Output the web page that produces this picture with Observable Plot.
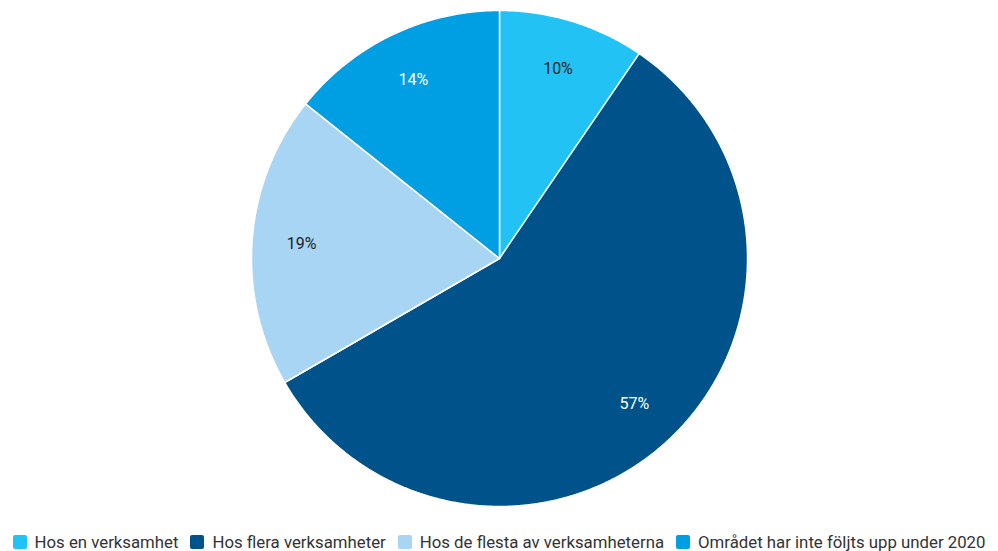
<!DOCTYPE html>
<html><head><meta charset="utf-8">
<script src="https://cdn.jsdelivr.net/npm/d3@7"></script>
<script src="https://cdn.jsdelivr.net/npm/@observablehq/plot@0.6"></script>
<style>
body{margin:0;background:#fff;font-family:Roboto,sans-serif;}
#legend{display:flex;justify-content:center;align-items:center;height:24px;font-size:16.8px;color:#333;gap:12px;}
#legend .it{display:flex;align-items:center;gap:8px;}
#legend .sw{width:14px;height:14px;border-radius:2px;display:inline-block;}
</style></head>
<body><div id="chart"></div><div id="legend"></div>
<script>
const categories = ["Hos en verksamhet","Hos flera verksamheter","Hos de flesta av verksamheterna","Området har inte följts upp under 2020"];
const counts = [2, 12, 4, 3];
const colors = ["#22c3f4","#00538a","#a9d5f5","#009fe3"];
const labelColors = ["#222","#fff","#222","#fff"];

const total = d3.sum(counts);
const pie = d3.pie().sort(null).value(d => d.v)(categories.map((c,i)=>({c, v: counts[i], i})));
const poly = [];
const labels = [];
for (const a of pie) {
  const n = Math.max(4, Math.ceil((a.endAngle - a.startAngle) / 0.005));
  poly.push({c: a.data.c, x: 0, y: 0});
  for (let k = 0; k <= n; k++) {
    const t = a.startAngle + (a.endAngle - a.startAngle) * k / n;
    poly.push({c: a.data.c, x: Math.sin(t), y: Math.cos(t)});
  }
  poly.push({c: a.data.c, x: 0, y: 0});
  const m = (a.startAngle + a.endAngle) / 2;
  labels.push({c: a.data.c, x: 0.8*Math.sin(m), y: 0.8*Math.cos(m), t: Math.round(a.data.v/total*100) + "%", col: labelColors[a.data.i]});
}

const chart = Plot.plot({
  width: 998, height: 530,
  margin: 0,
  style: {fontFamily: "Roboto, sans-serif", background: "#fff"},
  x: {domain: [-1, 1], range: [251, 747], axis: null},
  y: {domain: [-1, 1], range: [506, 10], axis: null},
  color: {domain: categories, range: colors},
  marks: [
    Plot.line(poly, {x: "x", y: "y", z: "c", fill: "c", stroke: "#fff", strokeWidth: 1.5, strokeLinejoin: "round"}),
    Plot.text(labels, {x: "x", y: "y", text: "t", fill: "col", fontSize: 16})
  ]
});
document.getElementById("chart").appendChild(chart);

const lg = document.getElementById("legend");
categories.forEach((c,i)=>{
  const it = document.createElement("div"); it.className="it";
  const sw = document.createElement("span"); sw.className="sw"; sw.style.background=colors[i];
  const tx = document.createElement("span"); tx.textContent=c;
  it.appendChild(sw); it.appendChild(tx); lg.appendChild(it);
});
</script></body></html>
